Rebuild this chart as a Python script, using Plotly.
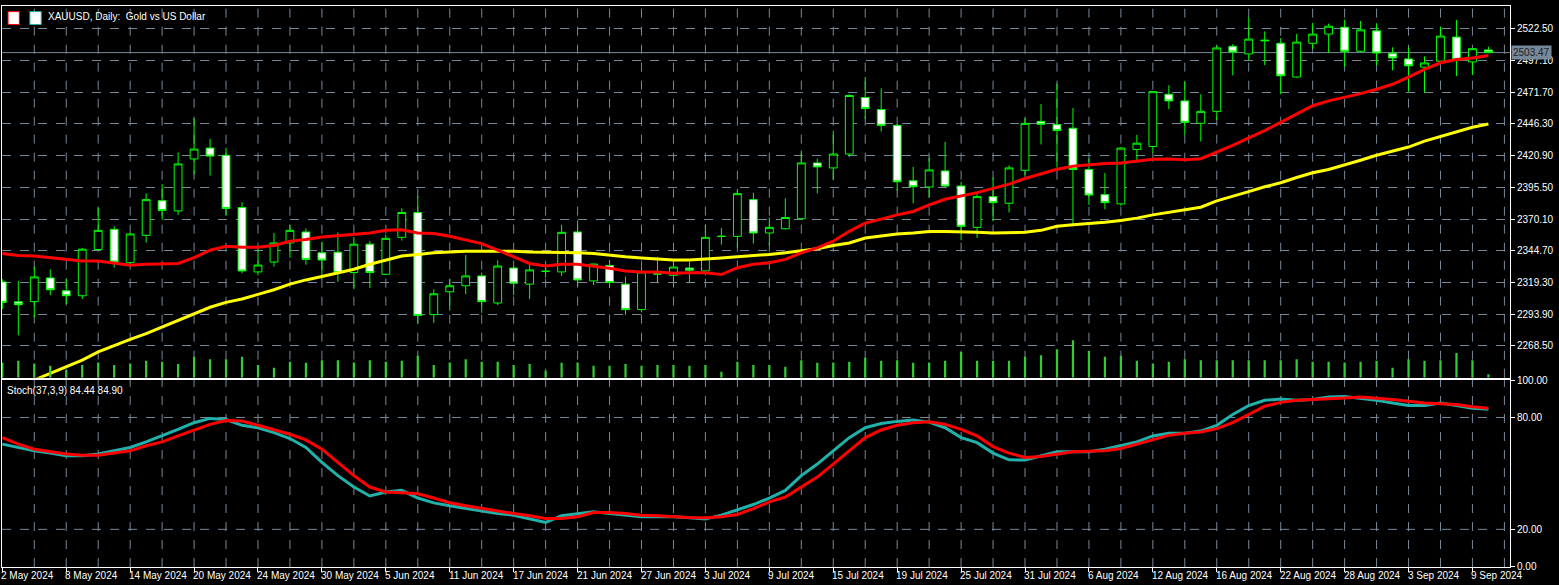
import plotly.graph_objects as go

# daily OHLC, XAUUSD, 2 May 2024 .. 10 Sep 2024 (one bar per weekday)
opens = [2319.8, 2303.9, 2304.0, 2323.0, 2312.7, 2308.7, 2345.8, 2361.9, 2335.2, 2357.1,
         2384.9, 2376.7, 2418.3, 2427.0, 2421.2, 2379.4, 2327.8, 2335.7, 2351.0, 2359.8,
         2343.1, 2343.6, 2327.3, 2350.0, 2325.9, 2355.5, 2375.4, 2293.6, 2311.9, 2316.7,
         2324.6, 2302.9, 2330.9, 2318.0, 2328.3, 2327.8, 2359.8, 2320.6, 2333.0, 2318.0,
         2297.6, 2325.9, 2325.1, 2330.9, 2328.6, 2356.3, 2356.3, 2385.7, 2359.0, 2362.4,
         2370.4, 2415.1, 2411.1, 2422.2, 2467.5, 2457.9, 2445.2, 2400.8, 2395.8, 2408.7,
         2396.6, 2363.5, 2388.1, 2382.8, 2409.2, 2448.4, 2445.8, 2442.9, 2409.8, 2389.7,
         2382.3, 2425.9, 2428.3, 2470.1, 2464.8, 2446.8, 2456.4, 2508.5, 2502.4, 2513.5,
         2510.9, 2483.9, 2510.9, 2518.3, 2523.8, 2504.5, 2520.9, 2502.9, 2498.4, 2491.8,
         2496.6, 2515.9, 2496.0, 2505.6]
highs = [2322.0, 2320.6, 2332.0, 2329.9, 2322.5, 2347.1, 2379.4, 2364.3, 2358.9, 2390.7,
         2398.1, 2423.5, 2450.8, 2434.4, 2427.3, 2383.6, 2345.8, 2359.0, 2365.6, 2362.7,
         2351.8, 2359.5, 2355.8, 2352.6, 2357.6, 2378.8, 2388.6, 2314.0, 2322.0, 2341.3,
         2327.3, 2337.0, 2332.5, 2333.8, 2333.8, 2365.6, 2369.0, 2334.5, 2337.3, 2324.1,
         2331.2, 2339.9, 2335.7, 2335.7, 2365.6, 2362.9, 2393.4, 2391.3, 2371.4, 2386.8,
         2425.1, 2418.5, 2441.0, 2470.1, 2483.9, 2474.9, 2446.3, 2411.9, 2419.3, 2432.0,
         2400.0, 2390.7, 2403.4, 2413.2, 2451.1, 2462.2, 2478.6, 2459.0, 2418.5, 2407.2,
         2427.8, 2437.6, 2472.5, 2477.3, 2480.2, 2470.1, 2509.3, 2510.3, 2531.8, 2520.4,
         2515.1, 2518.5, 2527.3, 2526.7, 2529.9, 2528.8, 2527.0, 2507.7, 2507.7, 2500.5,
         2524.1, 2529.6, 2506.8, 2508.2]
lows = [2298.0, 2277.0, 2291.3, 2309.2, 2302.1, 2306.1, 2344.5, 2331.2, 2333.9, 2351.3,
        2369.6, 2373.5, 2406.1, 2405.0, 2373.0, 2326.7, 2325.1, 2332.0, 2339.2, 2333.6,
        2322.0, 2319.8, 2314.0, 2314.8, 2325.1, 2352.9, 2286.2, 2287.0, 2296.8, 2310.0,
        2295.0, 2301.3, 2309.2, 2306.1, 2323.3, 2324.6, 2316.1, 2317.2, 2314.8, 2293.4,
        2295.5, 2318.8, 2316.7, 2318.8, 2325.1, 2349.7, 2347.1, 2350.5, 2348.9, 2361.8,
        2369.8, 2390.7, 2401.3, 2419.8, 2450.3, 2440.2, 2392.9, 2382.8, 2387.3, 2395.8,
        2353.2, 2355.0, 2368.3, 2375.4, 2405.3, 2429.9, 2411.4, 2364.3, 2381.5, 2378.0,
        2380.7, 2417.2, 2423.0, 2458.2, 2437.6, 2432.3, 2449.5, 2485.2, 2497.4, 2493.4,
        2470.1, 2483.3, 2506.4, 2503.2, 2492.1, 2503.7, 2493.4, 2489.2, 2472.2, 2471.4,
        2496.1, 2484.7, 2485.5, 2503.0]
closes = [2303.4, 2301.6, 2323.8, 2313.5, 2308.7, 2346.0, 2361.1, 2335.7, 2358.2, 2385.7,
          2377.0, 2414.3, 2426.2, 2420.6, 2378.6, 2328.6, 2333.3, 2351.0, 2361.1, 2337.8,
          2337.3, 2327.3, 2350.0, 2327.3, 2354.7, 2375.4, 2292.9, 2310.3, 2316.7, 2324.6,
          2304.0, 2332.5, 2318.8, 2329.4, 2328.3, 2359.5, 2321.4, 2334.1, 2319.3, 2297.6,
          2327.8, 2326.5, 2331.7, 2329.1, 2355.5, 2356.3, 2390.5, 2359.0, 2363.5, 2371.4,
          2415.1, 2411.9, 2422.2, 2469.1, 2458.7, 2445.2, 2400.0, 2396.1, 2409.5, 2396.6,
          2364.3, 2388.1, 2383.3, 2411.1, 2446.8, 2446.0, 2441.0, 2409.8, 2389.4, 2383.3,
          2427.0, 2430.9, 2472.2, 2464.8, 2447.6, 2456.4, 2507.2, 2504.0, 2514.3, 2513.0,
          2484.9, 2511.9, 2518.3, 2524.6, 2504.5, 2521.7, 2503.2, 2499.2, 2492.9, 2495.2,
          2516.7, 2497.4, 2506.6, 2503.47]
volumes = [45, 51, 43, 36, 23, 38, 46, 38, 43, 51, 48, 41, 63, 56, 56, 63, 38, 30, 48, 45,
           53, 53, 46, 53, 48, 51, 66, 38, 46, 56, 48, 48, 38, 41, 21, 45, 46, 36, 36, 41,
           36, 38, 38, 36, 38, 18, 48, 38, 38, 33, 53, 45, 46, 48, 60, 51, 53, 45, 46, 51,
           78, 51, 51, 51, 63, 68, 86, 113, 81, 63, 66, 51, 43, 48, 56, 53, 53, 53, 53, 53,
           53, 56, 48, 48, 46, 48, 51, 30, 56, 51, 53, 75, 53, 10]
ma_red = [2342.6, 2341.0, 2340.5, 2339.2, 2337.3, 2336.5, 2336.5, 2334.6, 2333.1, 2333.9,
          2334.4, 2334.6, 2339.2, 2345.2, 2348.4, 2347.6, 2347.6, 2349.0, 2352.4, 2353.7,
          2355.8, 2356.9, 2358.2, 2359.0, 2361.1, 2361.6, 2359.0, 2358.5, 2356.4, 2353.7,
          2350.5, 2345.2, 2339.7, 2334.6, 2332.5, 2333.9, 2333.9, 2332.5, 2330.7, 2328.6,
          2327.8, 2327.8, 2326.7, 2327.2, 2327.2, 2325.7, 2331.2, 2333.9, 2335.2, 2337.8,
          2343.1, 2347.1, 2352.4, 2360.3, 2366.9, 2370.1, 2373.5, 2376.2, 2381.5, 2386.0,
          2388.6, 2391.3, 2394.7, 2398.1, 2402.6, 2406.6, 2410.0, 2412.4, 2413.8, 2414.6,
          2415.1, 2416.4, 2418.0, 2418.3, 2417.7, 2418.5, 2423.8, 2429.1, 2435.2, 2441.0,
          2447.6, 2454.2, 2460.9, 2464.8, 2467.5, 2470.6, 2474.1, 2478.1, 2483.9, 2490.0,
          2495.3, 2497.9, 2499.2, 2501.1]
ma_yellow = [2232.0, 2236.5, 2241.2, 2246.5, 2251.8, 2257.1, 2263.7, 2269.0, 2273.8, 2278.3,
             2283.6, 2288.9, 2294.2, 2299.5, 2303.4, 2306.1, 2309.8, 2313.5, 2318.0, 2321.4,
             2324.1, 2327.2, 2329.9, 2333.9, 2337.3, 2340.5, 2341.8, 2343.1, 2343.7, 2344.4,
             2344.4, 2344.4, 2344.4, 2343.7, 2343.7, 2343.7, 2343.1, 2342.6, 2341.0, 2339.9,
             2338.9, 2337.8, 2337.3, 2337.3, 2337.8, 2338.9, 2339.9, 2340.7, 2341.8, 2343.1,
             2344.4, 2346.3, 2349.0, 2351.0, 2355.0, 2356.9, 2358.2, 2359.0, 2360.1, 2360.1,
             2360.1, 2359.5, 2359.0, 2359.0, 2359.5, 2361.1, 2364.3, 2365.6, 2366.4, 2367.5,
             2369.0, 2370.9, 2373.5, 2375.7, 2377.5, 2379.6, 2384.7, 2388.1, 2392.1, 2396.0,
             2399.2, 2403.4, 2407.2, 2409.8, 2413.2, 2417.2, 2421.2, 2424.6, 2427.8, 2432.6,
             2436.3, 2439.7, 2443.7, 2446.3]
stoch_main = [65.7, 63.9, 62.1, 60.9, 59.5, 59.5, 60.4, 62.1, 63.9, 66.9, 70.1, 73.6, 77.2, 79.5,
              78.9, 75.8, 74.5, 71.9, 68.7, 63.9, 55.9, 48.8, 42.7, 37.9, 40.0, 40.9, 36.8, 34.2,
              32.6, 31.1, 29.9, 28.5, 27.6, 25.8, 23.7, 27.3, 28.5, 29.4, 28.5, 27.6, 26.7, 26.7,
              26.7, 26.2, 25.5, 27.6, 30.3, 33.3, 36.8, 40.9, 48.8, 55.0, 62.1, 69.2, 74.5, 76.8,
              77.9, 78.6, 77.5, 74.5, 69.2, 66.5, 60.9, 57.3, 57.2, 59.5, 61.6, 61.6, 61.6, 63.0,
              64.8, 66.9, 70.1, 71.5, 71.5, 72.7, 75.8, 81.6, 86.4, 89.2, 89.9, 89.2, 89.6, 91.0,
              91.3, 90.4, 89.2, 87.8, 86.4, 86.4, 87.8, 86.4, 85.0, 84.44]
stoch_signal = [69.2, 65.7, 63.0, 61.6, 60.4, 59.8, 59.8, 60.9, 62.1, 64.8, 66.9, 70.1, 73.3, 76.3,
                78.4, 78.1, 75.8, 73.6, 71.0, 68.0, 63.0, 55.9, 48.8, 42.7, 40.0, 39.6, 39.1, 36.8,
                34.3, 32.6, 31.1, 29.7, 28.5, 27.3, 25.8, 25.8, 26.7, 29.0, 29.0, 28.5, 27.6, 27.3,
                26.7, 26.4, 26.2, 26.7, 28.0, 31.1, 34.7, 37.3, 42.7, 48.0, 55.0, 62.1, 69.2, 73.3,
                75.8, 77.2, 77.7, 76.3, 73.6, 70.1, 64.4, 60.9, 58.6, 59.1, 60.4, 61.6, 61.9, 62.1,
                63.4, 65.7, 68.3, 70.4, 71.5, 72.2, 74.0, 77.2, 81.6, 86.0, 88.1, 89.2, 89.6, 89.9,
                90.4, 91.0, 90.4, 89.6, 88.7, 87.8, 87.4, 86.9, 85.7, 84.90]
date_labels = ["2 May 2024", "8 May 2024", "14 May 2024", "20 May 2024", "24 May 2024",
               "30 May 2024", "5 Jun 2024", "11 Jun 2024", "17 Jun 2024", "21 Jun 2024",
               "27 Jun 2024", "3 Jul 2024", "9 Jul 2024", "15 Jul 2024", "19 Jul 2024",
               "25 Jul 2024", "31 Jul 2024", "6 Aug 2024", "12 Aug 2024", "16 Aug 2024",
               "22 Aug 2024", "28 Aug 2024", "3 Sep 2024", "9 Sep 2024"]
price_ticks = [2268.50, 2293.90, 2319.30, 2344.70, 2370.10, 2395.50, 2420.90, 2446.30,
               2471.70, 2497.10, 2522.50]
stoch_ticks = [0, 20, 80, 100]
last_price = 2503.47

bars = list(range(len(closes)))
label_pos = [4 * i for i in range(len(date_labels))]

GRID = "#778899"
FONT = dict(family="Liberation Sans", size=10, color="white")

fig = go.Figure()

fig.add_trace(go.Bar(x=bars, y=volumes, width=0.14, marker_color="#32cd32",
                     marker_line_width=0, yaxis="y3", xaxis="x", hoverinfo="skip"))
fig.add_trace(go.Candlestick(
    x=bars, open=opens, high=highs, low=lows, close=closes, xaxis="x", yaxis="y",
    increasing=dict(line=dict(color="#00ff00", width=1), fillcolor="black"),
    decreasing=dict(line=dict(color="#00ff00", width=1), fillcolor="white"),
    whiskerwidth=0))
fig.add_trace(go.Scatter(x=bars, y=ma_yellow, mode="lines", line=dict(color="yellow", width=3),
                         xaxis="x", yaxis="y"))
fig.add_trace(go.Scatter(x=bars, y=ma_red, mode="lines", line=dict(color="red", width=3),
                         xaxis="x", yaxis="y"))
fig.add_trace(go.Scatter(x=bars, y=stoch_main, mode="lines", line=dict(color="#20b2aa", width=3),
                         xaxis="x2", yaxis="y2"))
fig.add_trace(go.Scatter(x=bars, y=stoch_signal, mode="lines", line=dict(color="red", width=3),
                         xaxis="x2", yaxis="y2"))

# current price line
fig.add_shape(type="line", xref="x", yref="y", x0=-1, x1=95, y0=last_price, y1=last_price,
              line=dict(color=GRID, width=1), layer="below")

xr = [-0.02, 94.35]
for gx in range(2, 95, 2):
    for ya in ("y", "y2"):
        fig.add_shape(type="line", xref="x", yref=ya + " domain", x0=gx, x1=gx, y0=0, y1=1,
                      line=dict(color=GRID, width=1, dash="dash"), layer="below")
for lvl in (20, 80):
    fig.add_shape(type="line", xref="x2 domain", yref="y2", x0=0, x1=1, y0=lvl, y1=lvl,
                  line=dict(color=GRID, width=1, dash="dash"), layer="below")

fig.update_layout(
    width=1559, height=585, paper_bgcolor="black", plot_bgcolor="black",
    margin=dict(l=1, r=49, t=1, b=18), showlegend=False, font=FONT,
    xaxis=dict(domain=[0, 1], range=xr, showgrid=False, showticklabels=False, zeroline=False,
               showline=True, linecolor="white", mirror=True, anchor="y",
               rangeslider=dict(visible=False)),
    xaxis2=dict(domain=[0, 1], range=xr, showgrid=False, zeroline=False, anchor="y2",
                tickvals=label_pos, ticktext=[""] * len(label_pos), ticks="outside",
                ticklen=4, tickcolor="white", showline=True, linecolor="white", mirror=True),
    yaxis=dict(domain=[0.3375, 1], range=[2243.1, 2540.8], side="right", tickvals=price_ticks,
               ticktext=[f"{v:.2f}" for v in price_ticks], ticks="outside", ticklen=4,
               tickcolor="white", gridcolor=GRID, griddash="dash", gridwidth=1,
               zeroline=False, showline=True, linecolor="white", mirror=True, anchor="x",
               tickfont=dict(family="Liberation Sans", size=10, color="white")),
    yaxis3=dict(overlaying="y", range=[0, 1125], visible=False),
    yaxis2=dict(domain=[0, 0.334], range=[-0.2, 100.3], side="right", tickvals=stoch_ticks,
                ticktext=[f"{v:.2f}" for v in stoch_ticks], ticks="outside", ticklen=4,
                tickcolor="white", showgrid=False, zeroline=False,
                showline=True, linecolor="white", mirror=True, anchor="x2",
                tickfont=dict(family="Liberation Sans", size=10, color="white")),
)

for pos, txt in zip(label_pos, date_labels):
    fig.add_annotation(x=pos, xref="x2", y=0, yref="paper", yshift=-1, text=txt,
                       showarrow=False, xanchor="left", yanchor="top", font=FONT,
                       xshift=-3)

fig.add_annotation(x=1.0, xref="paper", y=last_price, yref="y", text=f"{last_price:.2f}",
                   showarrow=False, xanchor="left", xshift=1, bgcolor="#778899",
                   font=dict(family="Liberation Sans", size=10, color="#222222"), borderpad=1)
# chart header icons + title
fig.add_shape(type="rect", xref="paper", yref="paper", x0=0.004, x1=0.0115, y0=0.967, y1=0.99,
              line=dict(color="red", width=1), fillcolor="white")
fig.add_shape(type="rect", xref="paper", yref="paper", x0=0.0185, x1=0.026, y0=0.967, y1=0.99,
              line=dict(color="#20b2aa", width=1), fillcolor="white")
fig.add_annotation(x=0.029, xref="paper", y=1, yref="paper", yshift=-3,
                   text="XAUUSD, Daily:  Gold vs US Dollar", showarrow=False,
                   xanchor="left", yanchor="top", font=FONT)
fig.add_annotation(x=0.002, xref="paper", y=0.334, yref="paper", yshift=-3,
                   text=f"Stoch(37,3,9) {stoch_main[-1]:.2f} {stoch_signal[-1]:.2f}",
                   showarrow=False, xanchor="left", yanchor="top", font=FONT)

fig.write_html("out.html", config={"displayModeBar": False},
               post_script="document.body.style.margin='0';"
               "document.body.style.background='black';")
